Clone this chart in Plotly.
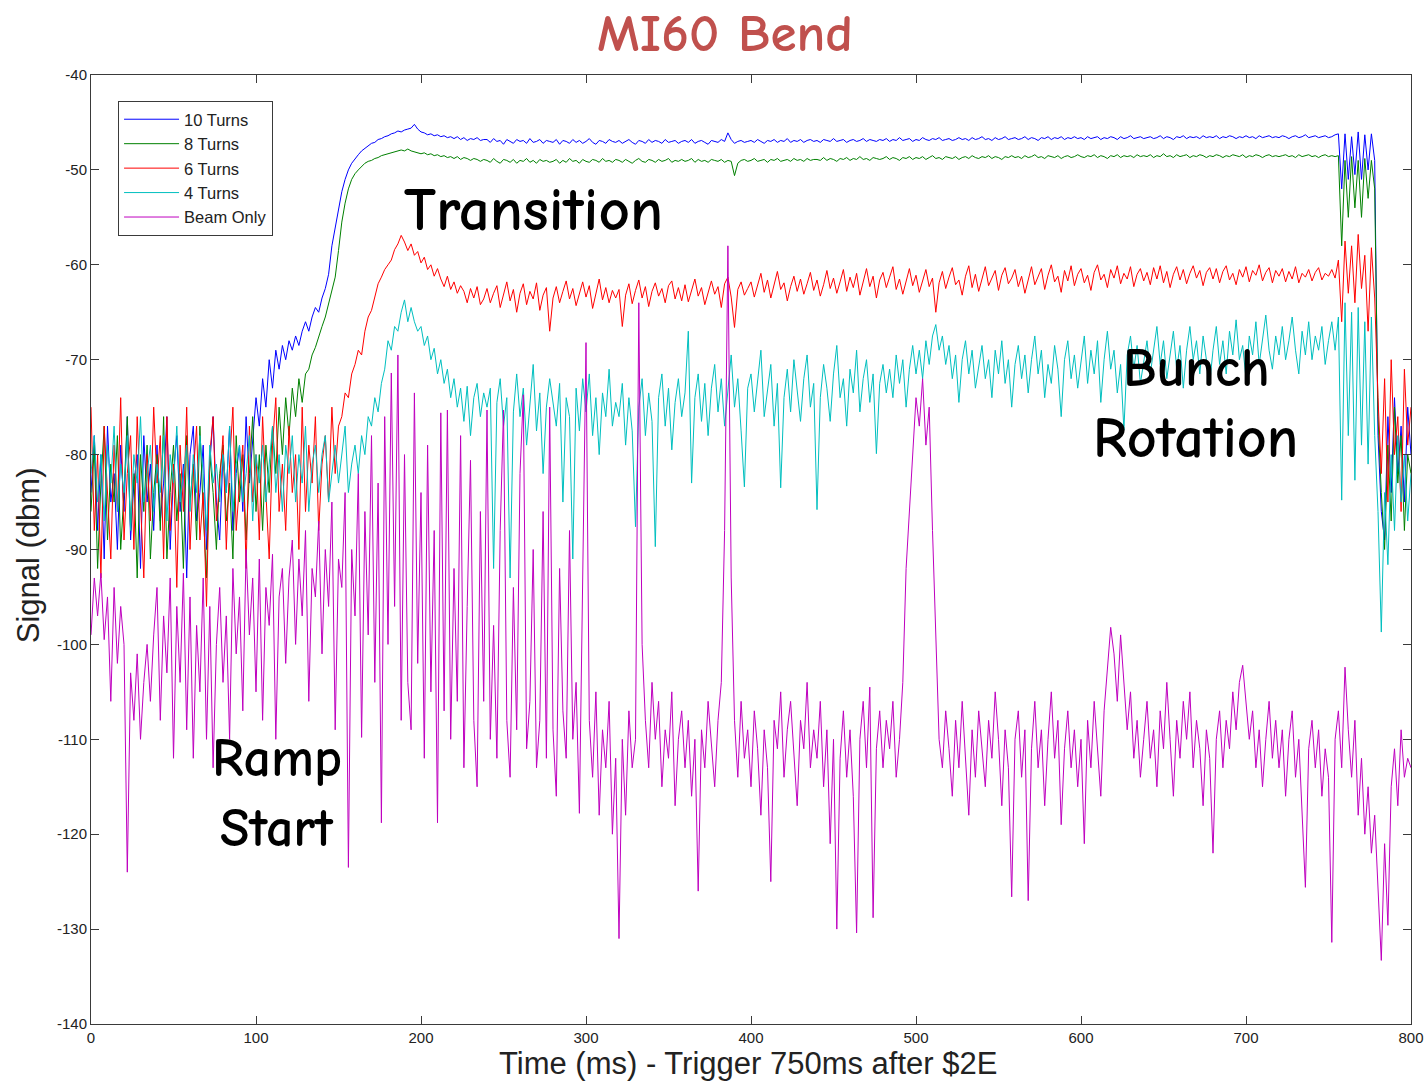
import numpy as np
import plotly.graph_objects as go

# Time grid (ms), 2 ms spacing
time_ms = np.arange(0, 801, 2)

turns10 = [
    -84, -78, -88, -80, -91, -77, -85, -82, -90, -79, -86, -76, -89, -83, -80, -92, -78, -85, -81, -88,
    -79, -87, -83, -76, -90, -82, -78, -86, -81, -93, -80, -77, -87, -84, -79, -90, -81, -76, -85, -89,
    -80, -84, -77, -88, -82, -79, -86, -76, -83, -78, -74, -77, -72, -75, -70, -73, -69, -71, -68.5, -70,
    -68, -69, -67.5, -68.5, -67, -66, -67, -65.5, -64.5, -65, -63.5, -62.5, -61, -58, -56, -54, -52.3, -51, -50, -49.3,
    -48.8, -48.4, -48, -47.7, -47.5, -47.2, -47.1, -46.8, -46.7, -46.5, -46.4, -46.2, -46.1, -45.9, -46, -45.8, -45.7, -45.6, -45.2, -45.7,
    -46, -46.1, -46.3, -46.2, -46.4, -46.3, -46.5, -46.4, -46.6, -46.5, -46.7, -46.5, -46.8, -46.6, -46.9, -46.7, -46.8, -46.6, -46.9, -46.8,
    -46.8, -47.1, -46.7, -47.0, -46.9, -47.3, -46.8, -47.0, -47.2, -46.8, -47.0, -46.9, -47.2, -46.7, -47.1, -47.0, -46.8, -47.2, -46.9, -47.0,
    -47.1, -46.8, -47.3, -46.9, -47.0, -47.2, -46.8, -47.1, -46.9, -47.2, -47.0, -46.7, -47.1, -47.3, -46.9, -47.0, -47.2, -46.8, -47.0, -47.1,
    -46.9, -47.2, -47.0, -46.8, -47.1, -47.3, -46.9, -47.0, -47.2, -46.8, -47.1, -46.9, -47.0, -47.2, -46.8, -47.1, -47.0, -46.9, -47.2, -47.0,
    -46.9, -47.1, -46.8, -47.2, -47.0, -46.9, -47.1, -47.3, -46.9, -47.0, -47.1, -46.8, -47.0, -46.1, -46.8, -47.2, -47.0, -46.9, -47.1, -47.0,
    -46.9, -47.1, -46.8, -47.0, -47.2, -46.9, -47.0, -46.8, -47.1, -46.9, -47.0, -46.7, -47.1, -46.9, -47.0, -46.8, -47.1, -46.9, -46.8, -47.0,
    -46.9, -47.1, -46.8, -46.9, -47.0, -46.7, -47.0, -46.9, -46.8, -47.1, -46.9, -46.8, -47.0, -46.9, -46.7, -47.0, -46.8, -46.9, -47.0, -46.8,
    -46.9, -46.7, -47.0, -46.8, -46.9, -46.6, -46.9, -46.8, -46.7, -47.0, -46.8, -46.9, -46.6, -46.8, -46.9, -46.7, -46.8, -46.6, -46.9, -46.8,
    -46.7, -46.9, -46.8, -46.6, -46.8, -46.7, -46.9, -46.6, -46.8, -46.7, -46.5, -46.8, -46.7, -46.9, -46.6, -46.8, -46.7, -46.5, -46.8, -46.7,
    -46.6, -46.8, -46.7, -46.5, -46.8, -46.6, -46.7, -46.9, -46.6, -46.7, -46.5, -46.8, -46.6, -46.7, -46.5, -46.8, -46.6, -46.7, -46.5, -46.7,
    -46.6, -46.8, -46.5, -46.7, -46.6, -46.5, -46.8, -46.6, -46.7, -46.5, -46.6, -46.8, -46.5, -46.7, -46.6, -46.4, -46.7, -46.6, -46.5, -46.7,
    -46.6, -46.5, -46.7, -46.6, -46.4, -46.7, -46.5, -46.6, -46.8, -46.5, -46.6, -46.4, -46.7, -46.5, -46.6, -46.5, -46.7, -46.4, -46.6, -46.5,
    -46.6, -46.4, -46.7, -46.5, -46.6, -46.4, -46.5, -46.7, -46.5, -46.6, -46.4, -46.6, -46.5, -46.7, -46.4, -46.6, -46.5, -46.4, -46.6, -46.5,
    -46.6, -46.4, -46.5, -46.7, -46.5, -46.4, -46.6, -46.5, -46.3, -46.6, -46.5, -46.4, -46.6, -46.5, -46.4, -46.6, -46.5, -46.3, -46.2, -52,
    -46.2, -51, -46.5, -50.5, -46, -51, -46.3, -50, -46.2, -49, -78, -86, -89, -76, -84, -74, -82, -77, -85, -75,
    -80,
]

turns8 = [
    -86, -79, -92, -83, -77, -89, -81, -85, -78, -90, -84, -76, -88, -82, -93, -80, -86, -79, -91, -84,
    -80, -88, -76, -91, -84, -79, -87, -82, -92, -78, -85, -81, -89, -77, -86, -93, -80, -84, -90, -82,
    -79, -87, -83, -91, -78, -85, -80, -89, -82, -76, -86, -80, -88, -79, -84, -77, -82, -75, -80, -74,
    -78, -73, -76, -72, -74.5, -71.5, -71, -69.5, -68.7, -67.5, -66.5, -65.5, -64, -62.5, -61.3, -58.5, -55.5, -53.5, -52, -51,
    -50.4, -50, -49.6, -49.3, -49.1, -49, -48.8, -48.7, -48.5, -48.4, -48.3, -48.2, -48.1, -48, -47.9, -48, -47.8, -48, -48.1, -48.2,
    -48.3, -48.2, -48.4, -48.3, -48.5, -48.4, -48.6, -48.5, -48.7, -48.6, -48.8, -48.6, -48.9, -48.7, -48.8, -49.0, -48.8, -48.9, -49.1, -48.9,
    -49.0, -49.2, -48.8, -49.1, -49.3, -48.9, -49.0, -49.2, -48.9, -49.3, -49.0, -49.1, -48.8, -49.2, -49.0, -49.3, -48.9, -49.1, -49.0, -49.2,
    -49.1, -48.9, -49.3, -49.0, -49.2, -48.8, -49.1, -49.0, -49.3, -48.9, -49.1, -49.2, -48.9, -49.0, -49.2, -48.8, -49.1, -49.0, -49.2, -48.9,
    -49.0, -49.2, -48.9, -49.1, -49.3, -49.0, -48.8, -49.1, -49.2, -48.9, -49.0, -49.2, -48.9, -49.1, -49.0, -48.8, -49.2, -49.0, -49.1, -48.9,
    -49.1, -49.0, -48.8, -49.2, -48.9, -49.1, -49.0, -49.2, -48.9, -49.0, -49.1, -48.9, -49.2, -49.0, -49.1, -50.6, -49.3, -49.0, -48.9, -49.1,
    -49.0, -48.8, -49.1, -49.0, -48.9, -49.2, -48.9, -49.0, -48.8, -49.1, -49.0, -48.9, -49.1, -48.8, -49.0, -48.9, -49.1, -48.8, -49.0, -48.9,
    -48.9, -49.0, -48.7, -49.0, -48.8, -48.9, -49.1, -48.8, -48.9, -48.7, -49.0, -48.8, -48.9, -48.6, -48.9, -48.8, -49.0, -48.7, -48.8, -48.9,
    -48.8, -48.6, -48.9, -48.7, -48.8, -49.0, -48.7, -48.8, -48.6, -48.9, -48.7, -48.8, -48.6, -48.9, -48.7, -48.5, -48.8, -48.7, -48.9, -48.6,
    -48.7, -48.8, -48.6, -48.9, -48.7, -48.6, -48.8, -48.5, -48.7, -48.8, -48.6, -48.7, -48.5, -48.8, -48.6, -48.7, -48.9, -48.6, -48.7, -48.5,
    -48.7, -48.6, -48.8, -48.5, -48.7, -48.6, -48.4, -48.7, -48.6, -48.8, -48.5, -48.6, -48.7, -48.5, -48.8, -48.6, -48.5, -48.7, -48.6, -48.4,
    -48.6, -48.7, -48.5, -48.6, -48.4, -48.7, -48.5, -48.6, -48.8, -48.5, -48.6, -48.4, -48.7, -48.5, -48.6, -48.5, -48.7, -48.4, -48.6, -48.5,
    -48.6, -48.4, -48.7, -48.5, -48.6, -48.3, -48.6, -48.5, -48.7, -48.4, -48.6, -48.5, -48.4, -48.7, -48.5, -48.6, -48.4, -48.5, -48.7, -48.5,
    -48.6, -48.4, -48.5, -48.7, -48.5, -48.6, -48.4, -48.5, -48.6, -48.4, -48.7, -48.5, -48.6, -48.4, -48.5, -48.7, -48.5, -48.4, -48.6, -48.5,
    -48.6, -48.5, -48.4, -48.6, -48.5, -48.7, -48.4, -48.6, -48.5, -48.4, -48.6, -48.5, -48.7, -48.5, -48.4, -48.6, -48.5, -48.6, -48.5, -58,
    -49, -55, -48.6, -54, -49, -55, -48.8, -53, -49, -52, -76, -84, -90, -79, -87, -75, -83, -78, -88, -80,
    -82,
]

turns6 = [
    -75, -88, -80, -93, -77, -84, -91, -79, -86, -74, -89, -82, -78, -90, -76, -85, -93, -80, -87, -75,
    -83, -78, -91, -76, -88, -81, -94, -79, -86, -75, -90, -82, -77, -89, -84, -96, -80, -76, -87, -83,
    -78, -90, -81, -75, -88, -83, -79, -92, -77, -85, -80, -89, -76, -84, -91, -79, -74, -86, -81, -88,
    -77, -84, -80, -90, -75, -86, -79, -83, -76, -88, -81, -78, -85, -75, -82, -77, -76, -73.5, -74, -71.5,
    -70.5, -69, -69.5, -67, -65.5, -64.8, -63.5, -62, -61.3, -60.5, -60, -59.5, -58.4, -57.8, -56.9, -57.6, -58.5, -57.8, -59, -58.6,
    -59.8, -59.2, -60.5, -60, -61.2, -60.4, -61.5, -62.3, -61.2, -62.6, -61.8, -63, -62.2, -62.8, -64, -62.5, -63.5, -62.3, -64.2, -63.6,
    -62.5, -64, -63, -62.2, -64.5, -63.2, -61.8, -63.8, -62.6, -65, -63, -62, -64.2, -62.8, -63.6, -61.9, -64.8, -63.2, -62.4, -67,
    -63.5, -62.3, -64, -62.8, -61.7, -63.6, -62.5, -64.3, -63, -61.8, -63.4, -62.2, -64.6, -62.9, -61.5, -63.7, -62.4, -64, -62.7, -63.5,
    -62.6, -66.5, -63.2, -62, -64.1, -62.7, -61.6, -63.5, -62.3, -64.4, -62.8, -61.9, -63.3, -62.5, -64, -62.2, -61.7, -63.6, -62.4, -63.8,
    -62.1, -63.9, -62.6, -61.5, -63.3, -62.4, -64.2, -62.8, -61.7, -63.1, -62.3, -64.5, -62, -61.3, -63.4, -66.6, -62.6, -61.8, -63.2, -62.5,
    -61.8, -63.4, -62.2, -60.9, -62.9, -61.6, -63.5, -62.1, -60.7, -62.6, -61.9, -63.8, -62.3, -61.2, -62.8, -61.5, -63.1, -62, -60.8, -62.7,
    -61.6, -63.3, -62.1, -60.6, -62.5, -61.4, -63, -61.8, -60.5, -62.8, -61.3, -62.4, -60.9, -63.2, -61.7, -60.4, -62.3, -61.2, -63.5, -61.6,
    -60.8, -62.4, -61.3, -60.2, -62.6, -61.5, -63.1, -61.8, -60.4, -62.2, -61.1, -62.9, -61.6, -60.5, -62.3, -61.4, -65, -61.9, -60.7, -62.5,
    -61.3, -60.3, -62.1, -61.6, -63.2, -61.2, -60.1, -62.4, -61, -62.8, -61.5, -60.2, -62.2, -61.3, -60.6, -62.7, -61.1, -60.3, -62, -61.4,
    -60.5, -62.3, -61.2, -63, -61.6, -60.2, -62.1, -61.3, -60.4, -62.6, -61.1, -60, -61.8, -61.2, -62.9, -60.6, -61.7, -60.1, -62.2, -61,
    -60.4, -61.9, -61.1, -62.7, -60.8, -60, -61.6, -61, -62.4, -60.5, -61.4, -60.1, -62, -60.9, -61.5, -60.2, -62.3, -61, -60.4, -61.7,
    -60.8, -62.1, -60.3, -61.5, -60.1, -61.9, -60.7, -62.4, -61, -60.2, -61.6, -60.5, -62, -60.9, -60.1, -61.4, -60.6, -62.2, -60.8, -60.3,
    -61.5, -60.4, -61.9, -60.7, -60.1, -61.6, -60.9, -62.1, -60.5, -61.3, -60.2, -61.8, -60.6, -61.1, -60, -61.7, -60.8, -60.3, -61.9, -60.6,
    -61.2, -60.4, -61.8, -60.7, -61.5, -60.2, -61.9, -60.9, -61.3, -60.5, -61.7, -60.8, -60.3, -61.6, -60.9, -61.2, -60.5, -61.4, -59.5, -66,
    -57.5, -63, -58, -64, -56.8, -62.5, -59, -67, -58.2, -63.5, -74, -82, -72, -85, -70, -80, -76, -86, -71, -79,
    -75,
]

turns4 = [
    -82, -78, -85, -80, -87, -79, -83, -77, -86, -81, -84, -78, -88, -80, -83, -76, -85, -82, -79, -86,
    -81, -84, -78, -87, -80, -83, -77, -85, -82, -79, -86, -80, -84, -78, -82, -88, -79, -83, -81, -85,
    -80, -84, -77, -86, -81, -79, -85, -82, -78, -87, -80, -83, -79, -85, -81, -77, -84, -80, -86, -79,
    -82, -78, -85, -80, -83, -77, -86, -81, -79, -84, -80, -78, -85, -82, -79, -83, -80, -77, -84, -81,
    -79, -82, -78, -80, -76, -77, -74, -75.5, -72.5, -71, -68, -69, -66.5, -67, -65, -63.7, -66, -64.5, -66, -67,
    -66.5, -68.5, -67.5, -70, -68.8, -71.5, -70, -72.5, -71, -74, -72, -75, -73, -76.5, -72.8, -78, -74, -72.5, -76, -73.5,
    -75, -73, -92, -74.5, -72, -77, -74, -93, -75.5, -71.5, -76, -73, -79, -74.5, -70.5, -77.5, -73.5, -82, -75, -72,
    -74.5, -77, -72.5, -85, -74, -76, -91, -73, -77.5, -72, -75.5, -71.5, -78, -74, -80, -73.5, -76, -71, -77, -74.5,
    -76, -72.5, -79, -74, -77.5, -87.6, -75, -72, -78, -73.5, -76.5, -89.7, -74, -71.5, -77, -73, -79.5, -74.5, -72, -76,
    -73.5, -67, -83, -74, -71.5, -76.5, -72.5, -78, -73, -70.5, -75.5, -72, -77, -73.5, -69.5, -75, -72, -77.5, -83.4, -73,
    -71.5, -75.5, -72, -69, -76, -73, -70.5, -77, -72.5, -83.5, -74, -71, -75.5, -70, -73.5, -76.5, -72, -69.5, -75, -72.5,
    -85.8, -74, -70.5, -73, -76.5, -71.5, -68.5, -74, -72, -77, -71, -73.5, -69, -75.5, -72, -70, -74.5, -71.5, -79.9, -72.5,
    -70.5, -73.5, -71, -74, -69.5, -72.5, -70, -75, -71, -68.5, -71.5, -69, -72, -68, -70.5, -67.5, -66.3, -69, -67.5, -70.5,
    -68.5, -72, -69.5, -74.5, -70, -68, -71.5, -69, -73, -70.5, -68.5, -72, -70, -74, -69, -71.5, -68, -72.5, -70, -75,
    -70.5, -68.5, -72, -69.5, -73.5, -70, -67.5, -71.5, -69, -74, -70.5, -72.5, -68.5, -71, -76, -70, -68, -72, -69.5, -73,
    -70, -67.5, -72.5, -69, -71.5, -68, -74.5, -70, -67, -71, -69, -73.5, -70.5, -77.4, -69.5, -67.5, -71, -68.5, -72.5, -70,
    -68, -71.5, -69, -66.5, -70.5, -68, -72, -69.5, -67, -71, -68.5, -73, -69, -66.5, -70, -68, -71.5, -67.5, -70, -72.5,
    -69, -66.5, -70.5, -68, -71.5, -67, -69.5, -65.8, -70, -68.5, -72, -67.5, -69.5, -66, -70.5, -68, -65.3, -69, -71, -67.5,
    -69.5, -66.5, -70, -68, -65.5, -69, -71.5, -67, -69.5, -66, -70, -67.5, -69, -66.5, -70.5, -68, -66, -69, -65.5, -84.8,
    -64, -78, -65, -82.7, -64.5, -79, -66, -81, -65.5, -78, -86, -98.7, -84, -91.6, -80, -88, -78, -85, -80, -87,
    -82,
]

beam_only = [
    -99, -93, -97, -92.5, -99.5, -95, -106, -94, -102, -96, -100, -124, -103, -108, -101, -110, -104, -100, -106, -99,
    -94, -108, -97, -103, -93, -112, -96, -104, -92.5, -109, -95, -112, -98, -105, -93, -110, -96, -113, -100, -94,
    -104, -97, -110, -92, -101, -95, -107, -90, -99, -93, -105, -91, -108, -94, -98, -90.5, -110, -95, -92, -102,
    -93, -89, -100, -91, -97, -88, -106, -92, -95, -87, -101, -90, -96, -85, -109, -91, -94, -84, -123.5, -90,
    -97, -82, -109.8, -86, -99, -78, -104, -83, -118.8, -76, -100, -71.4, -96, -69.5, -108, -80, -104, -109, -73.5, -102,
    -84, -112, -79, -105, -88, -118.8, -75.6, -107, -75.3, -110, -92, -106, -78, -113, -96, -80.6, -108, -115, -86, -106,
    -75.3, -110, -98, -112, -88, -75.3, -108, -114, -94, -109, -82, -73.7, -111, -106, -90, -113, -108, -86, -112, -75,
    -109, -116, -92, -107, -112, -88, -110, -104, -117.8, -95, -68.2, -108, -114, -105, -118, -109, -113, -106, -120, -112,
    -131, -110, -118, -107, -113, -110, -64, -100, -108, -113, -104, -110, -106, -115, -109, -112, -105, -117, -110, -107,
    -113, -108, -116, -110, -126, -109, -113, -106, -111, -115, -108, -104, -88, -58, -93, -108, -114, -106, -112, -109,
    -115, -107, -111, -118, -109, -113, -125, -108, -111, -105, -114, -109, -106, -112, -117, -108, -111, -104, -113, -109,
    -112, -106, -115, -109, -121, -110, -130, -112, -107, -114, -109, -116, -130.4, -110, -106, -113, -104.5, -128.8, -111, -107,
    -113, -108, -111, -106, -114, -110, -104, -92, -86, -80, -74, -77, -72, -79, -75, -88, -98, -110, -113, -107,
    -111, -116, -108, -113, -106, -112, -118, -109, -114, -107, -111, -115, -108, -112, -105, -110, -117, -109, -113, -126.6,
    -110, -107, -114, -109, -127, -111, -106, -113, -109, -117, -110, -105, -112, -108, -119, -111, -107, -113, -109, -115,
    -110, -121, -108, -113, -106, -111, -116, -107, -103, -98.2, -101, -106, -99, -104, -109, -105, -112, -108, -114, -110,
    -106, -112, -109, -115, -107, -111, -104, -110, -116, -108, -112, -106, -110, -105, -113, -108, -111, -117, -109, -112,
    -122, -110, -107, -113, -108, -111, -105, -109, -104, -102.2, -106, -110, -107, -113, -109, -115, -110, -106, -112, -108,
    -113, -109, -116, -110, -107, -114, -110, -118, -125.6, -111, -108, -113, -109, -116, -111, -114, -131.4, -110, -107, -113,
    -102.4, -109, -114, -108, -118, -112, -120, -115, -122, -118, -126, -133.3, -121, -129.6, -115, -111, -117, -109, -114, -112,
    -113,
]

series_names = ["10 Turns", "8 Turns", "6 Turns", "4 Turns", "Beam Only"]
series_values = [turns10, turns8, turns6, turns4, beam_only]
series_colors = ["#0000ff", "#008000", "#ff0000", "#00bfbf", "#bf00bf"]

x_tick_vals = [0, 100, 200, 300, 400, 500, 600, 700, 800]
x_tick_text = ["0", "100", "200", "300", "400", "500", "600", "700", "800"]
y_tick_vals = [-140, -130, -120, -110, -100, -90, -80, -70, -60, -50, -40]
y_tick_text = ["-140", "-130", "-120", "-110", "-100", "-90", "-80", "-70", "-60", "-50", "-40"]

fig = go.Figure()
for name, vals, col in zip(series_names, series_values, series_colors):
    fig.add_trace(go.Scatter(
        x=time_ms[:len(vals)], y=vals, mode="lines", name=name,
        line=dict(color=col, width=1),
    ))

axis_common = dict(
    showline=True, linecolor="#3a3a3a", linewidth=1, mirror="allticks",
    ticks="inside", ticklen=8, tickcolor="#3a3a3a", tickwidth=1,
    showgrid=False, zeroline=False, automargin=False,
    tickfont=dict(family="Liberation Sans, Arial, sans-serif", size=15, color="#222222"),
)

fig.update_layout(
    width=1426, height=1085,
    margin=dict(l=91, r=15, t=75, b=61, autoexpand=False),
    paper_bgcolor="white", plot_bgcolor="white",
    xaxis=dict(range=[0, 800], tickvals=x_tick_vals, ticktext=x_tick_text, **axis_common),
    yaxis=dict(range=[-140, -40], tickvals=y_tick_vals, ticktext=y_tick_text, **axis_common),
    showlegend=True,
    legend=dict(
        x=0.0205, y=0.9726, xanchor="left", yanchor="top",
        bgcolor="white", bordercolor="#3a3a3a", borderwidth=1,
        font=dict(family="Liberation Sans, Arial, sans-serif", size=16.5, color="#222222"),
        itemwidth=55, tracegroupgap=0,
    ),
)

comic = "Comic Sans MS, Comic Neue, Lato, sans-serif"
annots = [
    dict(text="<b>MI60 Bend</b>", xref="paper", yref="paper", x=0.480, y=1.044, yanchor="middle",
         font=dict(family=comic, size=53, color="#c0504d")),
    dict(text="Time (ms) - Trigger 750ms after $2E", xref="paper", yref="paper", x=0.4977, y=-0.0622,
         yanchor="bottom",
         font=dict(family="Liberation Sans, Arial, sans-serif", size=31, color="#222222")),
    dict(text="Signal (dbm)", xref="paper", yref="paper", x=-0.0477, y=0.494, textangle=-90, yanchor="middle",
         font=dict(family="Liberation Sans, Arial, sans-serif", size=31, color="#222222")),
    dict(text="<b>Transition</b>", xref="x", yref="y", x=268, y=-54.2, yanchor="middle",
         font=dict(family=comic, size=61, color="black")),
    dict(text="<b>Bunch</b>", xref="x", yref="y", x=669.9, y=-70.9, yanchor="middle",
         font=dict(family=comic, size=55, color="black")),
    dict(text="<b>Rotation</b>", xref="x", yref="y", x=669.3, y=-78.3, yanchor="middle",
         font=dict(family=comic, size=58, color="black")),
    dict(text="<b>Ramp</b>", xref="x", yref="y", x=112.6, y=-112.0, yanchor="middle",
         font=dict(family=comic, size=54, color="black")),
    dict(text="<b>Start</b>", xref="x", yref="y", x=112.6, y=-119.4, yanchor="middle",
         font=dict(family=comic, size=54, color="black")),
]
for a in annots:
    fig.add_annotation(showarrow=False, xanchor="center", **a)

fig.write_html("out.html")
